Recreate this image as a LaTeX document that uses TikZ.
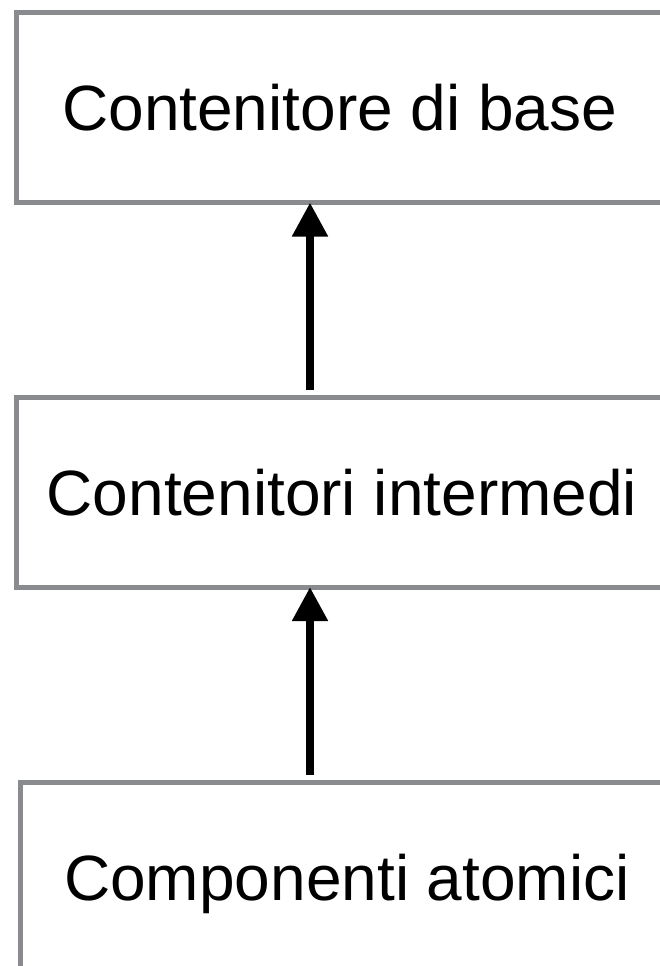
\documentclass[tikz,border=0pt]{standalone}
\usepackage{fontspec}
\setmainfont{Liberation Sans}
\usetikzlibrary{arrows.meta}
\definecolor{framegray}{HTML}{898B8E}
\begin{document}
\begin{tikzpicture}[x=1pt,y=-1pt,
  level/.style={draw=framegray, line width=5pt, rectangle, outer sep=0pt,
    inner sep=0pt, minimum height=190pt, text height=46pt, text depth=0pt,
    font=\fontsize{64}{77}\selectfont},
  uparrow/.style={line width=8pt, shorten <=7pt,
    -{Triangle[length=34pt,width=34pt]}}]
  \useasboundingbox (0,0) rectangle (660,966);
  \clip (0,0) rectangle (660,966);
  \fill[white] (0,0) rectangle (660,966);
  \node[level, minimum width=646.5pt] (base) at (339.75,107.5) {Contenitore di base};
  \node[level, minimum width=652pt] (inter) at (342,492) {Contenitori intermedi};
  \node[level, minimum width=654pt] (atom) at (347,877) {Componenti atomici};
  \draw[uparrow] (inter.north -| 310,0) -- (base.south -| 310,0);
  \draw[uparrow] (atom.north -| 310,0) -- (inter.south -| 310,0);
\end{tikzpicture}
\end{document}
